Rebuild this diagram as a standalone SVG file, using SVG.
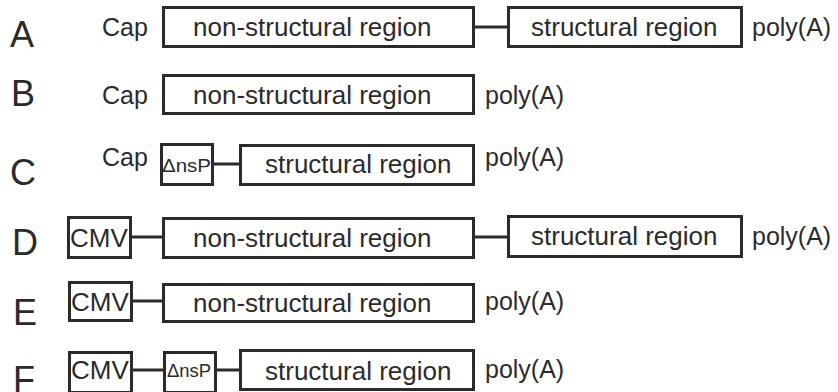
<svg xmlns="http://www.w3.org/2000/svg" width="838" height="392" viewBox="0 0 838 392">
<style>
text{font-family:"Liberation Sans",Arial,sans-serif;fill:#2b2b2b}
.lt{font-size:36px}
.t{font-size:25px}
.r{font-size:26px}
.d{font-size:18px}
rect{fill:#fff;stroke:#2b2b2b;stroke-width:3}
line{stroke:#2b2b2b;stroke-width:3}
</style>
<rect x="0" y="0" width="838" height="392" style="stroke:none;fill:#fff"/>
<g id="connectors">
<line x1="475" y1="27" x2="507" y2="27"/>
<line x1="213" y1="164" x2="239" y2="164"/>
<line x1="131" y1="237" x2="162" y2="237"/>
<line x1="475" y1="237" x2="507" y2="237"/>
<line x1="132" y1="301" x2="162" y2="301"/>
<line x1="132" y1="370" x2="163" y2="370"/>
<line x1="216" y1="370" x2="239" y2="370"/>
</g>
<g id="rowA">
<text class="lt" x="10" y="47">A</text>
<text class="t" x="102" y="36">Cap</text>
<g id="A-ns"><rect x="163.5" y="7.5" width="310" height="39"/><text class="r" x="193" y="36">non-structural region</text></g>
<g id="A-s"><rect x="508.5" y="7.5" width="233" height="39"/><text class="r" x="531" y="36">structural region</text></g>
<text class="t" x="752" y="36">poly(A)</text>
</g>
<g id="rowB">
<text class="lt" x="11" y="106">B</text>
<text class="t" x="102" y="104">Cap</text>
<g id="B-ns"><rect x="163.5" y="75.5" width="310" height="38"/><text class="r" x="193" y="104">non-structural region</text></g>
<text class="t" x="485" y="104">poly(A)</text>
</g>
<g id="rowC">
<text class="lt" x="10" y="185">C</text>
<text class="t" x="102" y="166">Cap</text>
<g id="C-d"><rect x="161.5" y="144.5" width="51" height="40"/><text class="d" x="162" y="172" textLength="49" lengthAdjust="spacingAndGlyphs">ΔnsP</text></g>
<g id="C-s"><rect x="240.5" y="145.5" width="233" height="39"/><text class="r" x="265" y="173">structural region</text></g>
<text class="t" x="485" y="166">poly(A)</text>
</g>
<g id="rowD">
<text class="lt" x="12" y="255">D</text>
<g id="D-cmv"><rect x="68.5" y="217.5" width="62" height="40"/><text class="r" x="70" y="247">CMV</text></g>
<g id="D-ns"><rect x="163.5" y="218.5" width="310" height="39"/><text class="r" x="193" y="247">non-structural region</text></g>
<g id="D-s"><rect x="508.5" y="216.5" width="233" height="40"/><text class="r" x="531" y="245">structural region</text></g>
<text class="t" x="752" y="245">poly(A)</text>
</g>
<g id="rowE">
<text class="lt" x="13" y="325">E</text>
<g id="E-cmv"><rect x="69.5" y="282.5" width="62" height="38"/><text class="r" x="71" y="311">CMV</text></g>
<g id="E-ns"><rect x="163.5" y="284.5" width="310" height="37"/><text class="r" x="193" y="312">non-structural region</text></g>
<text class="t" x="485" y="310">poly(A)</text>
</g>
<g id="rowF">
<text class="lt" x="13" y="392">F</text>
<g id="F-cmv"><rect x="69.5" y="352.5" width="62" height="40"/><text class="r" x="71" y="379">CMV</text></g>
<g id="F-d"><rect x="164.5" y="352.5" width="51" height="40"/><text class="d" x="167" y="377" textLength="44" lengthAdjust="spacingAndGlyphs">ΔnsP</text></g>
<g id="F-s"><rect x="240.5" y="350.5" width="233" height="39"/><text class="r" x="265" y="380">structural region</text></g>
<text class="t" x="485" y="378">poly(A)</text>
</g>
</svg>
